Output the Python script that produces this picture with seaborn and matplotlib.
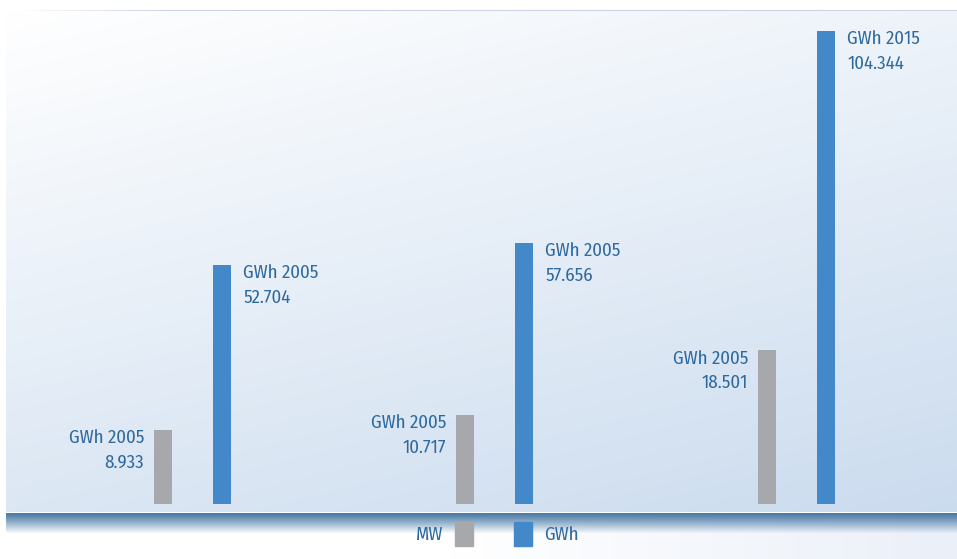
import numpy as np
import pandas as pd
import seaborn as sns
import matplotlib.pyplot as plt
from matplotlib.patches import Rectangle

# data
groups = ["A", "B", "C"]
mw_values = [8.933, 10.717, 18.501]
gwh_values = [52.704, 57.656, 104.344]
mw_labels = ["GWh 2005\n8.933", "GWh 2005\n10.717", "GWh 2005\n18.501"]
gwh_labels = ["GWh 2005\n52.704", "GWh 2005\n57.656", "GWh 2015\n104.344"]

GREY = "#a7a8ab"
BLUE = "#4389c9"
TEXT = "#2f6a9e"
FONT = ["Fira Sans Condensed", "DejaVu Sans"]
FS = 13.5

W, H = 957, 559


def background():
    img = np.ones((H, W, 3))
    yy, xx = np.mgrid[0:H, 0:W].astype(float)
    light = np.array([0.78, 0.85, 0.93])
    # main panel gradient
    top, bot, left = 10, 512, 6
    h = np.clip((xx - left) / (W - left), 0, 1)
    v = np.clip((yy - top) / (bot - top), 0, 1)
    t = 0.3 * h + 0.63 * v
    panel = 1 - (1 - light) * t[..., None]
    mask = (yy >= top) & (yy < bot) & (xx >= left)
    img[mask] = panel[mask]
    # faint line on top of panel
    lav = np.array([0.80, 0.81, 0.89])
    a = np.clip((xx[top] - 20) / 150, 0, 1)[:, None]
    img[top, left:] = (1 - a[left:]) * 1 + a[left:] * lav
    # lower area: white fading to pale lavender on the right
    pale = np.array([0.92, 0.94, 0.975])
    tb = np.clip((xx - 450) / 500, 0, 1)
    lower = 1 - (1 - pale) * tb[..., None]
    m2 = (yy >= bot) & (xx >= left)
    img[m2] = lower[m2]
    # white rule then dark blue shadow band
    img[bot, left:] = 1.0
    dark = np.array([0.29, 0.48, 0.65])
    n = 20
    for r in range(bot + 1, bot + 1 + n):
        k = ((r - bot - 1) / n) ** 1.1
        img[r, left:] = dark * (1 - k) + img[r, left:] * k
    return img


def main():
    sns.set_style("white")
    plt.rcParams["font.family"] = FONT

    fig = plt.figure(figsize=(W / 100, H / 100), dpi=100)
    fig.figimage(background(), xo=0, yo=0, zorder=-10)

    ax = fig.add_axes([6 / W, (H - 512) / H, (W - 6) / W, 502 / H])
    ax.set_facecolor("none")
    ax2 = ax.twinx()
    ax2.set_facecolor("none")

    pos = np.arange(len(groups))
    grey_x = pos - 0.0977
    blue_x = pos + 0.0977

    sns.barplot(x=grey_x, y=mw_values, ax=ax2, native_scale=True,
                width=0.06, color=GREY, saturation=1, linewidth=0)
    sns.barplot(x=blue_x, y=gwh_values, ax=ax, native_scale=True,
                width=0.06, color=BLUE, saturation=1, linewidth=0)

    for a_ in (ax, ax2):
        a_.set_xlim(-0.6175, 2.531)
        a_.set_xticks([])
        a_.set_yticks([])
        a_.set_xlabel("")
        a_.set_ylabel("")
        for s in a_.spines.values():
            s.set_visible(False)
    ax.set_ylim(-8 / 4.53, 494 / 4.53)
    ax2.set_ylim(-8 / 8.3, 494 / 8.3)

    for x, y, lab in zip(grey_x, mw_values, mw_labels):
        ax2.annotate(lab, xy=(x, y), xytext=(-19, 1), textcoords="offset pixels",
                     ha="right", va="top", fontsize=FS, color=TEXT,
                     linespacing=1.5, family=FONT)
    for x, y, lab in zip(blue_x, gwh_values, gwh_labels):
        ax.annotate(lab, xy=(x, y), xytext=(21, 1), textcoords="offset pixels",
                    ha="left", va="top", fontsize=FS, color=TEXT,
                    linespacing=1.5, family=FONT)

    # legend below the panel
    def px(x, y):
        return x / W, 1 - y / H
    fig.add_artist(Rectangle(px(455, 546), 18 / W, 24 / H, color=GREY,
                             transform=fig.transFigure))
    fig.add_artist(Rectangle(px(514, 546), 18 / W, 24 / H, color=BLUE,
                             transform=fig.transFigure))
    fig.text(*px(443, 535), "MW", ha="right", va="center", fontsize=FS,
             color=TEXT, family=FONT)
    fig.text(*px(544, 535), "GWh", ha="left", va="center", fontsize=FS,
             color=TEXT, family=FONT)

    fig.savefig("out.png", dpi=100)
    plt.close(fig)


if __name__ == "__main__":
    main()
